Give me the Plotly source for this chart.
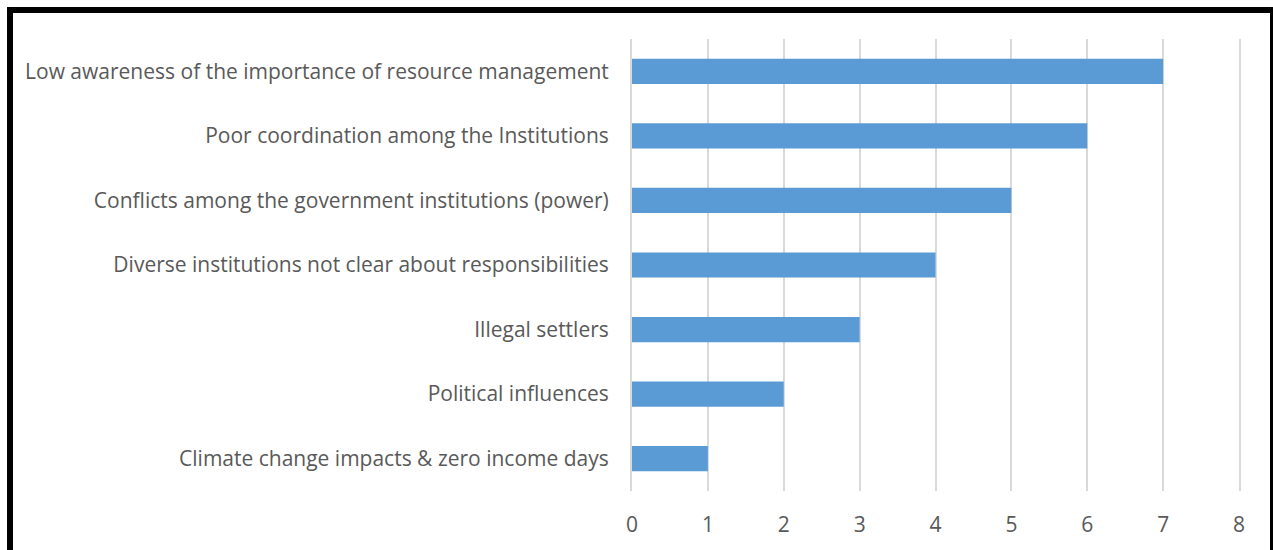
import plotly.graph_objects as go

# Survey results: challenges and the number of respondents citing them
challenges = [
    "Climate change impacts & zero income days",
    "Political influences",
    "Illegal settlers",
    "Diverse institutions not clear about responsibilities",
    "Conflicts among the government institutions (power)",
    "Poor coordination among the Institutions",
    "Low awareness of the importance of resource management",
]
counts = [1, 2, 3, 4, 5, 6, 7]
x_ticks = [0, 1, 2, 3, 4, 5, 6, 7, 8]

W, H = 1273, 550
L, R, T, B = 632, 34, 39, 59
pw, ph = W - L - R, H - T - B


def px_x(p):
    return (p - L) / pw


def px_y(p):
    return (H - B - p) / ph


fig = go.Figure(
    go.Bar(
        x=counts,
        y=challenges,
        orientation="h",
        marker=dict(color="#5B9BD5", line=dict(width=0)),
        width=0.39,
    )
)

font = "'Open Sans', sans-serif"
fsize = 21
grid = "#D9D9D9"

fig.update_layout(
    width=W,
    height=H,
    margin=dict(l=L, r=R, t=T, b=B, autoexpand=False),
    paper_bgcolor="white",
    plot_bgcolor="white",
    showlegend=False,
    font=dict(family=font, size=fsize, color="#595959"),
    xaxis=dict(
        range=[0, 8],
        tickvals=x_ticks,
        showgrid=True,
        gridcolor=grid,
        gridwidth=2,
        zeroline=False,
        showline=False,
        ticks="",
        ticklabelstandoff=19,
        tickfont=dict(size=fsize, color="#595959"),
    ),
    yaxis=dict(
        range=[-0.5, 6.5],
        showgrid=False,
        zeroline=False,
        # edge lines at x=0 and x=8 complete the vertical grid
        showline=True,
        mirror=True,
        linecolor=grid,
        linewidth=2,
        ticks="",
        ticklabelstandoff=17,
        tickfont=dict(size=fsize, color="#595959"),
    ),
    shapes=[
        # frame around the chart (left, top, right)
        dict(type="line", xref="paper", yref="paper",
             x0=px_x(10), x1=px_x(10), y0=px_y(7), y1=px_y(560),
             line=dict(color="black", width=6)),
        dict(type="line", xref="paper", yref="paper",
             x0=px_x(7), x1=px_x(1273), y0=px_y(10), y1=px_y(10),
             line=dict(color="black", width=6)),
        dict(type="line", xref="paper", yref="paper",
             x0=px_x(1271.5), x1=px_x(1271.5), y0=px_y(7), y1=px_y(560),
             line=dict(color="black", width=3)),
    ],
)

fig.write_html("out.html")
